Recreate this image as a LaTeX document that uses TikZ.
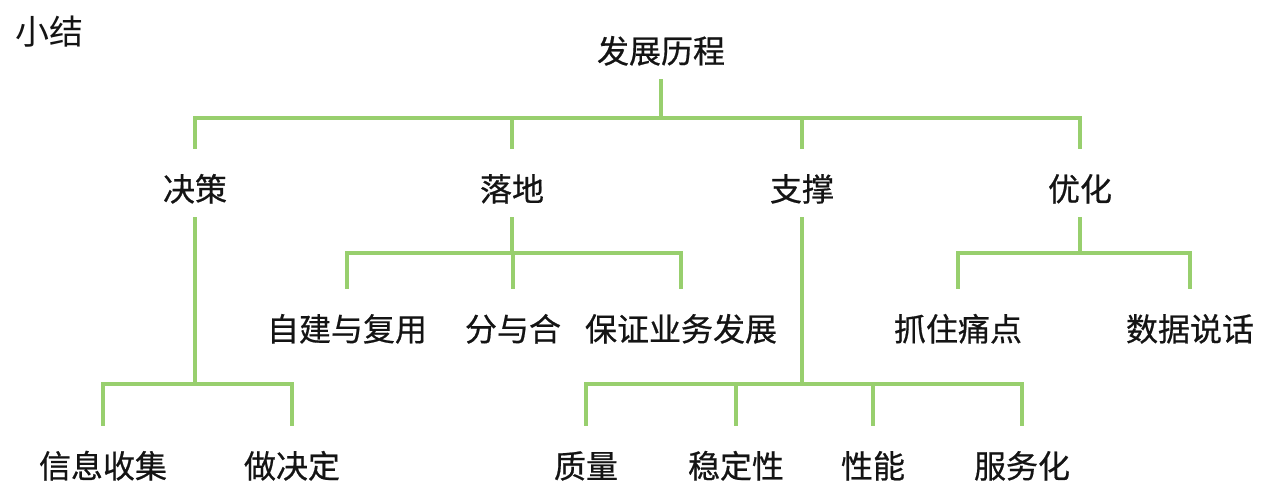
\documentclass[tikz,border=0pt]{standalone}
\usepackage{fontspec}
\newfontfamily\cjk[FakeBold=0.6]{Noto Sans CJK SC}
\newfontfamily\cjkt{Noto Sans CJK SC}
\definecolor{linkgreen}{RGB}{152,207,110}
\definecolor{txt}{RGB}{20,20,20}
\begin{document}
\begin{tikzpicture}[x=1pt,y=-1pt,
  lbl/.style={anchor=base,inner sep=0pt,text height=52pt,text depth=16pt,font=\cjk\fontsize{32}{38}\selectfont,text=txt},
  link/.style={draw=linkgreen,line width=4pt}]
\useasboundingbox (0,0) rectangle (1265,495);
\fill[white] (0,0) rectangle (1265,495);
\node[anchor=base,inner sep=0pt,font=\cjkt\fontsize{34}{40}\selectfont,text=txt] (title) at (50,45) {小结};
% level 1
\node[lbl] (root) at (661,63) {发展历程};
% level 2
\node[lbl] (jc) at (195,201) {决策};
\node[lbl] (ld) at (512,201) {落地};
\node[lbl] (zc) at (802,201) {支撑};
\node[lbl] (yh) at (1080,201) {优化};
% level 3 (mid)
\node[lbl] (zj) at (347,341) {自建与复用};
\node[lbl] (fy) at (513,341) {分与合};
\node[lbl] (bz) at (681,341) {保证业务发展};
\node[lbl] (zz) at (958,341) {抓住痛点};
\node[lbl] (sj) at (1190,341) {数据说话};
% level 4
\node[lbl] (xx) at (103,478) {信息收集};
\node[lbl] (zd) at (292,478) {做决定};
\node[lbl] (zl) at (586,478) {质量};
\node[lbl] (wd) at (736,478) {稳定性};
\node[lbl] (xn) at (873,478) {性能};
\node[lbl] (fw) at (1022,478) {服务化};
% bar coordinates
\coordinate (b0) at (0,118);
\coordinate (b1) at (0,253);
\coordinate (b2) at (0,384);
% connectors
\foreach \c in {jc,ld,zc,yh}
  \draw[link] (root.south) -- (root.south |- b0) -| (\c.north);
\foreach \c in {zj,fy,bz}
  \draw[link] (ld.south) -- (ld.south |- b1) -| (\c.north);
\foreach \c in {zz,sj}
  \draw[link] (yh.south) -- (yh.south |- b1) -| (\c.north);
\foreach \c in {xx,zd}
  \draw[link] (jc.south) -- (jc.south |- b2) -| (\c.north);
\foreach \c in {zl,wd,xn,fw}
  \draw[link] (zc.south) -- (zc.south |- b2) -| (\c.north);
\end{tikzpicture}
\end{document}
